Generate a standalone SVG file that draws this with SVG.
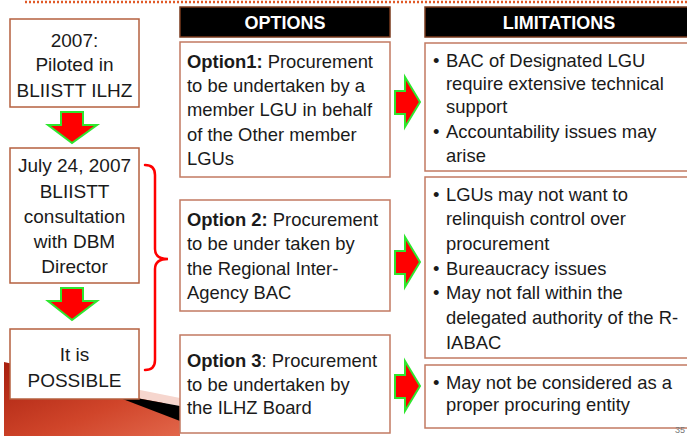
<svg xmlns="http://www.w3.org/2000/svg" width="687" height="436" viewBox="0 0 687 436">
<defs>
<linearGradient id="redg" x1="0" y1="0" x2="1" y2="1">
<stop offset="0" stop-color="#A8200F"/>
<stop offset="0.6" stop-color="#D0452A"/>
<stop offset="1" stop-color="#E2664A"/>
</linearGradient>
</defs>
<style>
.box{fill:#fff;stroke:#C27A62;stroke-width:1.5}
.lbox{fill:#fff;stroke:#B5603F;stroke-width:1.5}
.hdr{fill:#000;stroke:#7A3A1C;stroke-width:1.5}
.t{font-family:"Liberation Sans",Arial,sans-serif;font-size:18.4px;fill:#1a1a1a}
.lt{font-size:19px}
.c{text-anchor:middle}
.h{font-family:"Liberation Sans",Arial,sans-serif;font-size:18px;font-weight:bold;fill:#fff;text-anchor:middle}
.b{font-weight:bold}
.arr{fill:#FF0000;stroke:#2EE62E;stroke-width:2;stroke-linejoin:miter}
.brace{fill:none;stroke:#FF0000;stroke-width:2.5;stroke-linecap:round}
</style>
<rect width="687" height="436" fill="#fff"/>
<line x1="25" y1="2" x2="687" y2="2" stroke="#E05A28" stroke-width="2.5" stroke-dasharray="2 2"/>
<g id="decor">
<polygon points="4,362 139,392 180,410 180,436 4,436" fill="url(#redg)"/>
<polygon points="120,386 180,398 180,406 120,395" fill="#F6D6CE"/>
<polygon points="120,395 180,406 180,421 120,398" fill="#000"/>
</g>
<g id="connectors">
<path class="arr" d="M61,112 H83 V125 H97 L72,143 L48,125 H61 Z"/>
<path class="arr" d="M61,288 H83 V301 H97 L72,320 L48,301 H61 Z"/>
<path class="arr" d="M395,91 H405 V77 L420,102 L405,127 V114 H395 Z"/>
<path class="arr" d="M395,251 H405 V237 L420,262 L405,287 V274 H395 Z"/>
<path class="arr" d="M395,375 H405 V361 L420,386 L405,411 V398 H395 Z"/>
<path class="brace" d="M145,165 Q155,165 155,175 V249 Q155,259 168,259 Q155,259 155,269 V360 Q155,370 145,370"/>
</g>
<g id="n2007">
<rect class="lbox" x="10" y="19" width="129" height="88"/>
<text class="t lt c" x="74.5" y="47">2007:</text>
<text class="t lt c" x="74.5" y="71">Piloted in</text>
<text class="t lt c" x="74.5" y="97">BLIISTT ILHZ</text>
</g>
<g id="nJuly">
<rect class="lbox" x="10" y="148" width="129" height="135"/>
<text class="t lt c" x="74.5" y="172">July 24, 2007</text>
<text class="t lt c" x="74.5" y="198">BLIISTT</text>
<text class="t lt c" x="74.5" y="223">consultation</text>
<text class="t lt c" x="74.5" y="248">with DBM</text>
<text class="t lt c" x="74.5" y="273">Director</text>
</g>
<g id="nPossible">
<rect class="lbox" x="10" y="329" width="129" height="70"/>
<text class="t lt c" x="74.5" y="361">It is</text>
<text class="t lt c" x="74.5" y="387">POSSIBLE</text>
</g>
<g id="hOptions">
<rect class="hdr" x="180" y="7" width="210" height="30"/>
<text class="h" x="285" y="29">OPTIONS</text>
</g>
<g id="hLimitations">
<rect class="hdr" x="425" y="7" width="270" height="30"/>
<text class="h" x="559" y="29">LIMITATIONS</text>
</g>
<g id="opt1">
<rect class="box" x="180" y="42" width="210" height="135"/>
<text class="t" x="187" y="68"><tspan class="b">Option1:</tspan> Procurement</text>
<text class="t" x="187" y="92">to be undertaken by a</text>
<text class="t" x="187" y="116">member LGU in behalf</text>
<text class="t" x="187" y="141">of the Other member</text>
<text class="t" x="187" y="165">LGUs</text>
</g>
<g id="opt2">
<rect class="box" x="180" y="200" width="210" height="111"/>
<text class="t" x="187" y="226"><tspan class="b">Option 2:</tspan> Procurement</text>
<text class="t" x="187" y="250">to be under taken by</text>
<text class="t" x="187" y="275">the Regional Inter-</text>
<text class="t" x="187" y="299">Agency BAC</text>
</g>
<g id="opt3">
<rect class="box" x="180" y="335" width="210" height="98"/>
<text class="t" x="187" y="367"><tspan class="b">Option 3</tspan>: Procurement</text>
<text class="t" x="187" y="391">to be undertaken by</text>
<text class="t" x="187" y="414">the ILHZ Board</text>
</g>
<g id="lim1">
<rect class="box" x="425" y="43" width="270" height="128"/>
<text class="t" x="433" y="67">•</text><text class="t" x="446" y="67">BAC of Designated LGU</text>
<text class="t" x="446" y="90">require extensive technical</text>
<text class="t" x="446" y="113">support</text>
<text class="t" x="433" y="138">•</text><text class="t" x="446" y="138">Accountability issues may</text>
<text class="t" x="446" y="162">arise</text>
</g>
<g id="lim2">
<rect class="box" x="425" y="177" width="270" height="181"/>
<text class="t" x="433" y="201">•</text><text class="t" x="446" y="201">LGUs may not want to</text>
<text class="t" x="446" y="225">relinquish control over</text>
<text class="t" x="446" y="250">procurement</text>
<text class="t" x="433" y="275">•</text><text class="t" x="446" y="275">Bureaucracy issues</text>
<text class="t" x="433" y="299">•</text><text class="t" x="446" y="299">May not fall within the</text>
<text class="t" x="446" y="324">delegated authority of the R-</text>
<text class="t" x="446" y="349">IABAC</text>
</g>
<g id="lim3">
<rect class="box" x="425" y="365" width="270" height="63"/>
<text class="t" x="433" y="389">•</text><text class="t" x="446" y="389">May not be considered as a</text>
<text class="t" x="446" y="411">proper procuring entity</text>
</g>
<text x="675" y="433" font-family="Liberation Sans,Arial,sans-serif" font-size="9" fill="#777">35</text>
</svg>
